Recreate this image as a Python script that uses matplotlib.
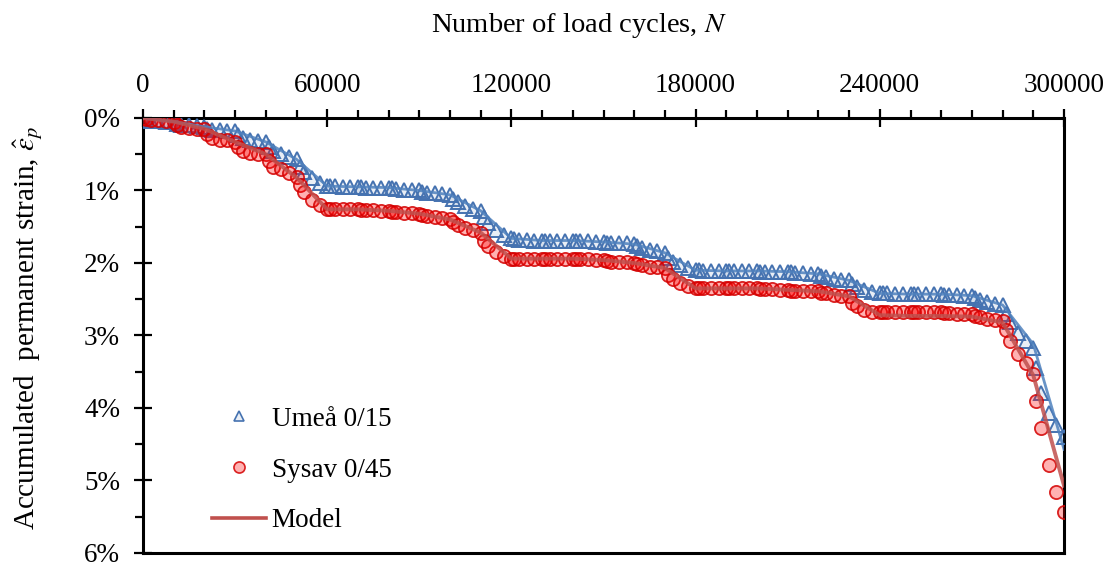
import matplotlib
matplotlib.use("Agg")
import matplotlib.pyplot as plt
from matplotlib.lines import Line2D
from matplotlib.ticker import MultipleLocator, FuncFormatter

# load stages of 10000 cycles, strain read at these offsets inside each stage
stage_starts = list(range(0, 300000, 10000))
stage_offsets = [0, 1000, 2500, 5000, 7500]
end_cycle = 300000

# accumulated permanent strain [%], one row per stage
umea_rows = [
    [0.00, 0.03, 0.04, 0.04, 0.05],
    [0.05, 0.08, 0.09, 0.10, 0.11],
    [0.12, 0.15, 0.16, 0.17, 0.18],
    [0.18, 0.24, 0.28, 0.30, 0.32],
    [0.33, 0.40, 0.45, 0.50, 0.54],
    [0.57, 0.67, 0.75, 0.83, 0.90],
    [0.94, 0.94, 0.94, 0.95, 0.95],
    [0.95, 0.95, 0.96, 0.96, 0.96],
    [0.96, 0.97, 0.98, 0.99, 1.00],
    [1.00, 1.02, 1.03, 1.04, 1.05],
    [1.06, 1.12, 1.16, 1.21, 1.25],
    [1.28, 1.37, 1.45, 1.54, 1.61],
    [1.66, 1.67, 1.68, 1.68, 1.69],
    [1.69, 1.69, 1.69, 1.69, 1.69],
    [1.69, 1.70, 1.70, 1.70, 1.71],
    [1.71, 1.72, 1.72, 1.73, 1.73],
    [1.74, 1.77, 1.79, 1.82, 1.84],
    [1.86, 1.93, 1.98, 2.03, 2.07],
    [2.10, 2.10, 2.11, 2.11, 2.11],
    [2.11, 2.11, 2.11, 2.11, 2.11],
    [2.11, 2.12, 2.12, 2.12, 2.12],
    [2.12, 2.13, 2.14, 2.14, 2.15],
    [2.15, 2.18, 2.20, 2.22, 2.23],
    [2.24, 2.29, 2.33, 2.37, 2.40],
    [2.42, 2.42, 2.42, 2.43, 2.43],
    [2.43, 2.43, 2.43, 2.43, 2.43],
    [2.43, 2.44, 2.44, 2.44, 2.45],
    [2.45, 2.48, 2.51, 2.54, 2.56],
    [2.58, 2.70, 2.82, 2.96, 3.07],
    [3.17, 3.45, 3.80, 4.07, 4.23],
]
umea_end = 4.40

sysav_rows = [
    [0.00, 0.02, 0.03, 0.03, 0.04],
    [0.05, 0.10, 0.13, 0.14, 0.15],
    [0.15, 0.22, 0.27, 0.30, 0.31],
    [0.33, 0.40, 0.45, 0.48, 0.49],
    [0.50, 0.60, 0.67, 0.71, 0.76],
    [0.82, 0.92, 1.02, 1.13, 1.20],
    [1.26, 1.26, 1.26, 1.26, 1.26],
    [1.26, 1.27, 1.27, 1.27, 1.28],
    [1.28, 1.29, 1.30, 1.31, 1.31],
    [1.32, 1.34, 1.35, 1.36, 1.38],
    [1.39, 1.44, 1.48, 1.52, 1.55],
    [1.58, 1.70, 1.77, 1.85, 1.91],
    [1.94, 1.94, 1.94, 1.94, 1.94],
    [1.94, 1.94, 1.94, 1.94, 1.94],
    [1.94, 1.95, 1.95, 1.95, 1.96],
    [1.96, 1.97, 1.98, 1.99, 1.99],
    [2.00, 2.02, 2.03, 2.05, 2.06],
    [2.07, 2.17, 2.22, 2.28, 2.32],
    [2.35, 2.35, 2.35, 2.35, 2.35],
    [2.35, 2.35, 2.35, 2.35, 2.35],
    [2.35, 2.36, 2.36, 2.36, 2.37],
    [2.37, 2.38, 2.38, 2.38, 2.39],
    [2.39, 2.41, 2.42, 2.44, 2.45],
    [2.46, 2.55, 2.60, 2.65, 2.67],
    [2.68, 2.68, 2.68, 2.68, 2.68],
    [2.68, 2.68, 2.68, 2.68, 2.68],
    [2.68, 2.69, 2.69, 2.70, 2.71],
    [2.71, 2.73, 2.75, 2.77, 2.78],
    [2.80, 2.93, 3.07, 3.25, 3.38],
    [3.53, 3.90, 4.27, 4.79, 5.16],
]
sysav_end = 5.44

# model curves at stage boundaries
model_cycles = list(range(0, 300001, 10000))
model_umea = [0.00, 0.05, 0.12, 0.18, 0.33, 0.57, 0.94, 0.95, 0.96, 1.00, 1.06,
              1.28, 1.66, 1.69, 1.69, 1.71, 1.74, 1.86, 2.10, 2.11, 2.11,
              2.12, 2.15, 2.24, 2.42, 2.43, 2.43, 2.45, 2.58, 3.12, 4.57]
model_sysav = [0.00, 0.05, 0.15, 0.33, 0.50, 0.82, 1.26, 1.26, 1.28, 1.32, 1.40,
               1.58, 1.94, 1.94, 1.94, 1.96, 2.00, 2.07, 2.35, 2.35, 2.35,
               2.37, 2.39, 2.46, 2.72, 2.73, 2.73, 2.74, 2.82, 3.55, 5.07]

cycles = [s + o for s in stage_starts for o in stage_offsets] + [end_cycle]
umea = [v for row in umea_rows for v in row] + [umea_end]
sysav = [v for row in sysav_rows for v in row] + [sysav_end]

plt.rcParams.update({
    "font.family": ["Liberation Serif", "DejaVu Serif"],
    "mathtext.fontset": "stix",
    "font.size": 19.5,
})

blue = "#4572b0"
umea_face = (0.29, 0.46, 0.70, 0.12)
sysav_face = (1.0, 0.0, 0.0, 0.3)
sysav_edge = (0.83, 0.0, 0.0, 0.85)

# axes box in pixels (left, top, right, bottom)
L, T, R, B = 143, 118, 1064, 553
fig = plt.figure(figsize=(11.14, 5.68), dpi=100)
ax = fig.add_axes([L / 1114, 1 - B / 568, (R - L) / 1114, (B - T) / 568])

ax.plot(cycles, umea, ls="none", marker="^", ms=9.5, mew=1.4,
        mfc=umea_face, mec=blue, zorder=3)
ax.plot(cycles, sysav, ls="none", marker="o", ms=9.5, mew=1.3,
        mfc=sysav_face, mec=sysav_edge, zorder=4)
ax.plot(model_cycles, model_umea, color="#4f81bd", lw=2.0, alpha=0.85, zorder=5)
ax.plot(model_cycles, model_sysav, color="#c0504d", lw=2.8, alpha=0.85, zorder=5)

ax.set_xlim(0, 300000)
ax.set_ylim(6, 0)
ax.xaxis.tick_top()
ax.xaxis.set_label_position("top")
ax.xaxis.set_major_locator(MultipleLocator(60000))
ax.xaxis.set_minor_locator(MultipleLocator(10000))
ax.yaxis.set_major_locator(MultipleLocator(1))
ax.yaxis.set_minor_locator(MultipleLocator(0.5))
ax.yaxis.set_major_formatter(FuncFormatter(lambda v, p: f"{v:.0f}%"))

ax.tick_params(which="major", direction="inout", length=13, width=1.6, pad=10)
ax.tick_params(which="minor", direction="out", length=6, width=1.6)
ax.tick_params(axis="x", which="major", pad=8)
for s in ax.spines.values():
    s.set_linewidth(2.2)

ax.set_xlabel("Number of load cycles, $\\it{N}$", fontsize=20.5)
ax.xaxis.set_label_coords(0.473, 1.0 + (T - 32) / (B - T))
ax.xaxis.label.set_va("baseline")
ax.set_ylabel("Accumulated  permanent strain, $\\hat{\\varepsilon}_p$", fontsize=21)
ax.yaxis.set_label_coords((44 - L) / (R - L), (B - 328) / (B - T))

handles = [
    Line2D([], [], ls="none", marker="^", ms=7, mew=1.2, mfc=umea_face, mec=blue),
    Line2D([], [], ls="none", marker="o", ms=8, mew=1.2, mfc=sysav_face, mec=sysav_edge),
    Line2D([], [], color="#c0504d", lw=2.6),
]
ax.legend(handles, ["Umeå 0/15", "Sysav 0/45", "Model"], loc="lower left",
          bbox_to_anchor=(0.075, 0.045), frameon=False, borderpad=0,
          borderaxespad=0, handlelength=2.0, handletextpad=0.2, labelspacing=0.95)

fig.savefig("out.png", dpi=100)
